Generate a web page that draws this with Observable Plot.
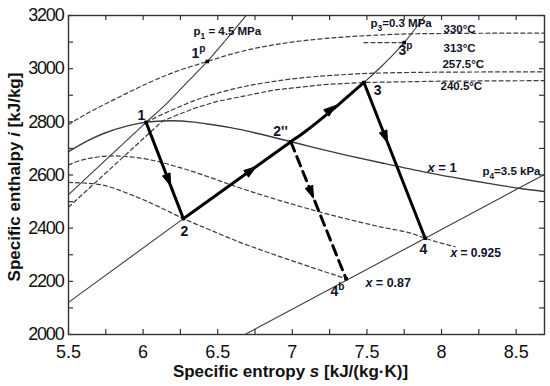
<!DOCTYPE html>
<html><head><meta charset="utf-8">
<script src="https://cdn.jsdelivr.net/npm/d3@7"></script>
<script src="https://cdn.jsdelivr.net/npm/@observablehq/plot@0.6"></script>
<style>
html,body{margin:0;padding:0;background:#fff;}
#chart{width:550px;height:386px;overflow:hidden;}
</style></head><body><div id="chart"></div>
<script>
// ---------- axis ticks ----------
const xTicks = [5.5, 6, 6.5, 7, 7.5, 8, 8.5];
const xTickMarks = [5.5, 5.75, 6, 6.25, 6.5, 6.75, 7, 7.25, 7.5, 7.75, 8, 8.25, 8.5];
const yTicks = [2000, 2200, 2400, 2600, 2800, 3000, 3200];
const yTickMarks = [2000, 2100, 2200, 2300, 2400, 2500, 2600, 2700, 2800, 2900, 3000, 3100, 3200];
const xTitle = "Specific entropy *s* [kJ/(kg·K)]";
const yTitle = "Specific enthalpy *i* [kJ/kg]";

// ---------- state points ----------
const stateNames = ["1", "1p", "2", "2''", "3", "3p", "4", "4b"];
const stateS = [6.02, 6.43, 6.27, 6.99, 7.48, 7.75, 7.89, 7.36];
const stateH = [2798, 3027, 2436, 2725, 2948, 3098, 2362, 2210];

// ---------- curves ----------
// saturated vapour x = 1
const satS = [5.5, 5.614, 5.744, 5.89, 5.973, 6.07, 6.186, 6.34, 6.445, 6.586, 6.76, 6.992, 7.127, 7.359, 7.593, 7.907, 8.149, 8.394, 8.52, 8.69];
const satH = [2688, 2725, 2758, 2784, 2794, 2801, 2804, 2799, 2791, 2778, 2757, 2725, 2706, 2675, 2646, 2609, 2584, 2561, 2550, 2538];
// quality x = 0.925
const q925S = [5.5, 5.554, 5.674, 5.79, 5.92, 6.049, 6.252, 6.449, 6.593, 6.905, 7.106, 7.378, 7.588, 7.801, 7.89, 8.09];
const q925H = [2638, 2650, 2666, 2672, 2668, 2657, 2627, 2591, 2562, 2506, 2473, 2433, 2405, 2380, 2362, 2330];
// quality x = 0.87
const q87S = [5.5, 5.7, 5.9, 6.1, 6.27, 6.45, 6.63, 6.85, 7.1, 7.36];
const q87H = [2572, 2565, 2530, 2482, 2436, 2393, 2351, 2306, 2258, 2210];
// isobar p1 = 4.5 MPa
const p1S = [5.5, 6.02, 6.15, 6.28, 6.43, 6.55, 6.69];
const p1H = [2526, 2798, 2865, 2940, 3027, 3105, 3200];
// isobar p3 = 0.3 MPa
const p3S = [5.5, 6.27, 6.99, 7.08, 7.31, 7.48, 7.6, 7.75, 7.89];
const p3H = [2121, 2436, 2725, 2761, 2865, 2948, 3010, 3098, 3200];
// isobar p4 = 3.5 kPa
const p4S = [6.683, 8.69];
const p4H = [2000, 2602];
// isotherms
const t330S = [5.5, 5.62, 5.75, 5.9, 6.05, 6.2, 6.32, 6.43, 6.55, 6.66, 6.88, 7.23, 7.56, 7.8, 8.2, 8.69];
const t330H = [2790, 2830, 2868, 2910, 2950, 2985, 3008, 3027, 3048, 3065, 3090, 3114, 3126, 3131, 3133, 3134];
const t313S = [7.48, 7.75];
const t313H = [3098, 3098];
const t2575S = [6.02, 6.12, 6.22, 6.33, 6.58, 6.95, 7.3, 7.545, 8.06, 8.69];
const t2575H = [2798, 2826, 2851, 2877, 2920, 2958, 2976, 2983, 2987, 2988];
const t2405S = [5.5, 6.13, 6.23, 6.35, 6.49, 6.88, 7.23, 7.48, 8.0, 8.69];
const t2405H = [2479, 2803, 2826, 2852, 2876, 2920, 2941, 2948, 2953, 2955];

// ---------- arrows on the cycle ----------
const arrowFrom = ["1", "2", "2''", "3", "2''"];
const arrowTo = ["2", "2''", "3", "4", "4b"];
const arrowAt = [0.6, 0.63, 0.55, 0.35, 0.37];

// ---------- annotations ----------
const noteText = ["p_{1} = 4.5 MPa", "p_{3}=0.3 MPa", "p_{4}=3.5 kPa", "330°C", "313°C", "257.5°C", "240.5°C"];
const noteS = [6.338, 7.524, 8.274, 8.013, 8.013, 8.006, 7.993];
const noteH = [3140, 3170, 2613, 3147, 3078, 3016, 2933];
const qualText = ["*x* = 1", "*x* = 0.925", "*x* = 0.87"];
const qualS = [7.906, 8.06, 7.49];
const qualH = [2626, 2307, 2192];
const qualSize = [13, 12, 12.5];
const stateLabel = ["1", "1^{p}", "2", "2''", "3", "3^{p}", "4", "4^{b}"];
const stateLabelS = [5.989, 6.371, 6.277, 6.921, 7.571, 7.758, 7.879, 7.303];
const stateLabelH = [2824, 3057, 2387, 2764, 2918, 3068, 2320, 2162];
const stateLabelAnchor = ["middle", "start", "middle", "start", "middle", "start", "middle", "start"];

// ---------- layout ----------
const W = 550, H = 386, mL = 68, mR = 6, mT = 15, mB = 52;
const plotW = W - mL - mR, plotH = H - mT - mB;
const xDomain = [5.5, 8.69], yDomain = [2000, 3200];
const kx = plotW / (xDomain[1] - xDomain[0]);
const ky = plotH / (yDomain[1] - yDomain[0]);

const pts = (S, Hh) => S.map((s, i) => ({s, h: Hh[i]}));
const state = Object.fromEntries(stateNames.map((n, i) => [n, {s: stateS[i], h: stateH[i]}]));
const seg = (a, b) => [state[a], state[b]];
const p3Path = pts(p3S, p3H).filter(d => d.s >= state["2"].s && d.s <= state["3"].s);

const arrows = arrowFrom.map((a, i) => {
  const A = state[a], B = state[arrowTo[i]], t = arrowAt[i];
  const ds = (B.s - A.s) * kx, dh = (B.h - A.h) * ky;
  return {s: A.s + t * (B.s - A.s), h: A.h + t * (B.h - A.h), angle: Math.atan2(ds, dh) * 180 / Math.PI};
});
const triShape = {draw(ctx, l, r) { ctx.moveTo(0, -l); ctx.lineTo(r, 0); ctx.lineTo(-r, 0); ctx.closePath(); }};

const notes = noteText.map((t, i) => ({t, s: noteS[i], h: noteH[i]}));
const quals = qualText.map((t, i) => ({t, s: qualS[i], h: qualH[i], fs: qualSize[i]}));
const stLabels = stateLabel.map((t, i) => ({t, s: stateLabelS[i], h: stateLabelH[i], a: stateLabelAnchor[i]}));

const thin = "#3c3c3c";
const txt = "#12122a";
const dash = {stroke: thin, strokeWidth: 1.2, strokeDasharray: "4,3"};

const chart = Plot.plot({
  width: W, height: H,
  marginLeft: mL, marginRight: mR, marginTop: mT, marginBottom: mB,
  style: {fontFamily: "Liberation Sans, Arial, sans-serif", fontSize: "18px", background: "#fff", color: "#111"},
  x: {domain: xDomain, ticks: xTicks, tickSize: 0, tickPadding: 11, tickFormat: d => String(d), label: null},
  y: {domain: yDomain, ticks: yTicks, tickSize: 0, tickPadding: 5, tickFormat: d => String(d), label: null},
  marks: [
    // isotherms and quality lines (dashed)
    Plot.line(pts(t330S, t330H), {x: "s", y: "h", curve: "monotone-x", ...dash}),
    Plot.line(pts(t313S, t313H), {x: "s", y: "h", ...dash}),
    Plot.line(pts(t2575S, t2575H), {x: "s", y: "h", curve: "monotone-x", ...dash}),
    Plot.line(pts(t2405S, t2405H), {x: "s", y: "h", curve: "linear", ...dash}),
    Plot.line(pts(q925S, q925H), {x: "s", y: "h", curve: "monotone-x", ...dash}),
    Plot.line(pts(q87S, q87H), {x: "s", y: "h", curve: "monotone-x", ...dash}),
    // isobars and saturation
    Plot.line(pts(p1S, p1H), {x: "s", y: "h", curve: "monotone-x", stroke: thin, strokeWidth: 1.1}),
    Plot.line(pts(p3S, p3H), {x: "s", y: "h", curve: "monotone-x", stroke: thin, strokeWidth: 1.1}),
    Plot.line(pts(p4S, p4H), {x: "s", y: "h", stroke: thin, strokeWidth: 1.1}),
    Plot.line(pts(satS, satH), {x: "s", y: "h", curve: "monotone-x", stroke: thin, strokeWidth: 1.4}),
    // cycle
    Plot.line(seg("1", "2"), {x: "s", y: "h", stroke: "#000", strokeWidth: 3}),
    Plot.line(p3Path, {x: "s", y: "h", curve: "monotone-x", stroke: "#000", strokeWidth: 3}),
    Plot.line(seg("3", "4"), {x: "s", y: "h", stroke: "#000", strokeWidth: 3}),
    Plot.line(seg("2''", "4b"), {x: "s", y: "h", stroke: "#000", strokeWidth: 3, strokeDasharray: "10,6"}),
    Plot.vector(arrows, {x: "s", y: "h", rotate: "angle", length: 12, r: 4, anchor: "middle", shape: triShape, fill: "#000", stroke: "#000", strokeWidth: 1}),
    Plot.dot(stateNames.map(n => state[n]), {x: "s", y: "h", symbol: "square", r: 2, fill: "#000", stroke: "none"}),
    // frame and inward ticks
    Plot.frame({stroke: "#333", strokeWidth: 1.4}),
    Plot.tickX(xTickMarks, {x: d => d, insetTop: plotH - 5, stroke: "#333", strokeWidth: 1.2}),
    Plot.tickX(xTickMarks, {x: d => d, insetBottom: plotH - 5, stroke: "#333", strokeWidth: 1.2}),
    Plot.tickY(yTickMarks, {y: d => d, insetRight: plotW - 5, stroke: "#333", strokeWidth: 1.2}),
    Plot.tickY(yTickMarks, {y: d => d, insetLeft: plotW - 5, stroke: "#333", strokeWidth: 1.2}),
    // annotations
    Plot.text(notes, {x: "s", y: "h", text: "t", textAnchor: "start", lineAnchor: "middle", fontSize: 11.5, fontWeight: "bold", fill: txt}),
    Plot.text(quals, {x: "s", y: "h", text: "t", textAnchor: "start", lineAnchor: "middle", fontSize: d => d.fs, fontWeight: "bold", fill: txt}),
    Plot.text(stLabels, {x: "s", y: "h", text: "t", textAnchor: d => d.a, lineAnchor: "middle", fontSize: 14, fontWeight: "bold", fill: txt}),
    // axis titles
    Plot.text([xTitle], {text: d => d, frameAnchor: "bottom", textAnchor: "middle", dx: -16, dy: 37, lineAnchor: "middle", fontSize: 17, fontWeight: "bold", fill: "#111"}),
    Plot.text([yTitle], {text: d => d, frameAnchor: "left", textAnchor: "middle", dx: -54, dy: 2, rotate: -90, lineAnchor: "middle", fontSize: 17, fontWeight: "bold", fill: "#111"})
  ]
});

document.getElementById("chart").appendChild(chart);

// y tick labels look condensed in the reference
chart.querySelectorAll('g[aria-label="y-axis tick label"] text').forEach(t => t.style.letterSpacing = "-1.2px");

// rich text: _{sub}, ^{sup}, *italic*
const NS = "http://www.w3.org/2000/svg";
chart.querySelectorAll("text").forEach(t => {
  const s = t.textContent;
  if (!/(_\{|\^\{|\*)/.test(s)) return;
  const fs = parseFloat(getComputedStyle(t).fontSize) || 12;
  const parts = s.split(/(_\{[^}]*\}|\^\{[^}]*\}|\*[^*]*\*)/g).filter(p => p !== "");
  while (t.firstChild) t.removeChild(t.firstChild);
  let shift = 0;
  for (const p of parts) {
    const ts = document.createElementNS(NS, "tspan");
    let content = p, newShift = 0, small = false, italic = false;
    if (p.startsWith("_{")) { content = p.slice(2, -1); newShift = 0.3 * fs; small = true; }
    else if (p.startsWith("^{")) { content = p.slice(2, -1); newShift = -0.42 * fs; small = true; }
    else if (p.length > 1 && p.startsWith("*") && p.endsWith("*")) { content = p.slice(1, -1); italic = true; }
    ts.textContent = content;
    const dy = newShift - shift;
    if (dy) ts.setAttribute("dy", dy);
    shift = newShift;
    if (small) ts.setAttribute("font-size", (0.72 * fs).toFixed(1));
    if (italic) ts.setAttribute("font-style", "italic");
    t.appendChild(ts);
  }
});
</script>
</body></html>
